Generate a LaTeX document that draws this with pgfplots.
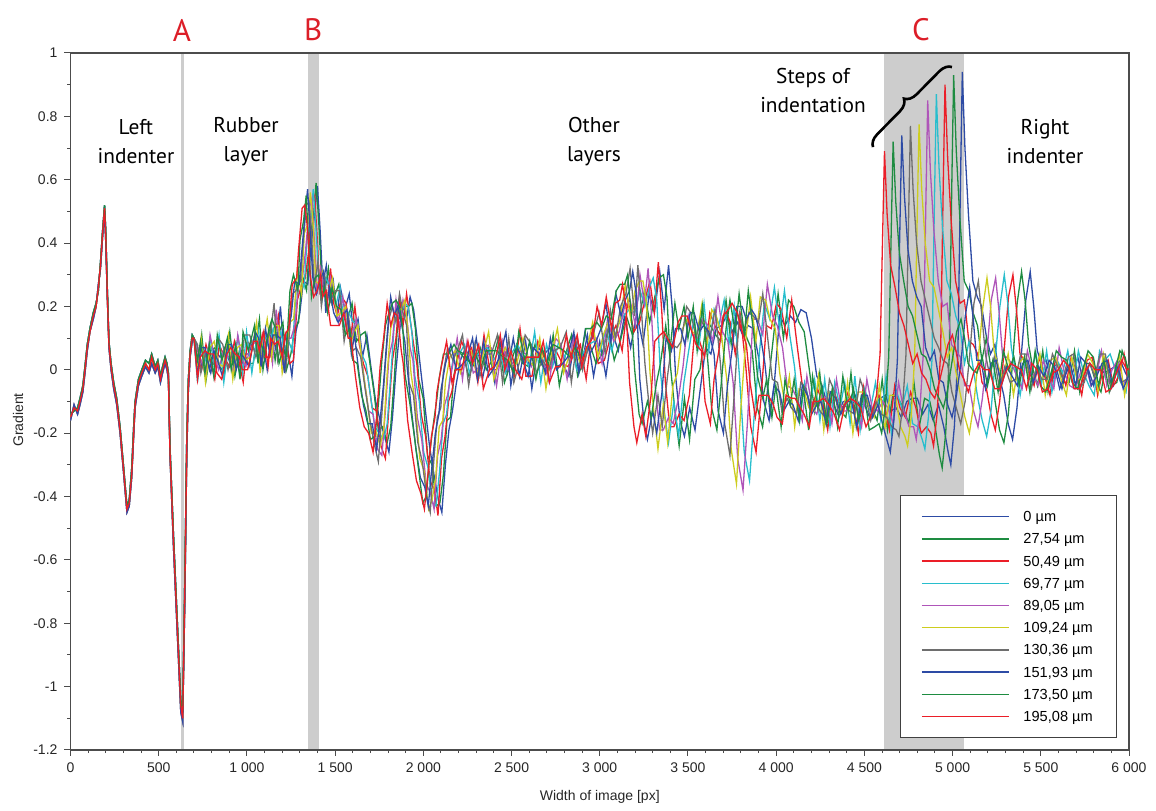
\documentclass[border=0pt]{standalone}
\usepackage{fontspec}
\setmainfont{Liberation Sans}
\newfontfamily\annot{PT Sans}
\usepackage{pgfplots}
\usepackage{pgfplotstable}
\pgfplotsset{compat=1.18}
\usetikzlibrary{decorations.pathreplacing}
\definecolor{serblue}{RGB}{45,75,165}
\definecolor{sergreen}{RGB}{30,140,65}
\definecolor{serred}{RGB}{235,30,40}
\definecolor{sercyan}{RGB}{40,190,205}
\definecolor{sermag}{RGB}{175,85,185}
\definecolor{seryel}{RGB}{205,205,30}
\definecolor{sergray}{RGB}{110,110,110}
\definecolor{band}{RGB}{205,205,205}
\definecolor{lab}{RGB}{220,30,40}

% left part: all curves coincide
\pgfplotstableread{
x ya yb yc
0 -0.15 -0.14 -0.16
20 -0.12 -0.13 -0.11
40 -0.13 -0.12 -0.14
54 -0.10 -0.09 -0.11
70 -0.06 -0.05 -0.07
82 0.00 0.01 -0.01
95 0.07 0.08 0.06
110 0.12 0.13 0.12
129 0.17 0.18 0.16
145 0.20 0.21 0.20
158 0.26 0.25 0.27
170 0.33 0.34 0.32
182 0.43 0.44 0.42
193 0.51 0.52 0.50
200 0.42 0.44 0.40
208 0.25 0.27 0.24
218 0.08 0.09 0.07
230 0.01 0.02 0.00
245 -0.05 -0.04 -0.06
262 -0.10 -0.09 -0.11
281 -0.19 -0.18 -0.20
300 -0.31 -0.30 -0.32
320 -0.44 -0.43 -0.45
333 -0.42 -0.41 -0.43
347 -0.33 -0.31 -0.34
358 -0.20 -0.18 -0.21
366 -0.11 -0.10 -0.12
385 -0.04 -0.03 -0.05
404 -0.01 0.00 -0.02
425 0.02 0.03 0.01
445 0.00 0.02 -0.01
460 0.04 0.05 0.02
480 0.00 0.01 -0.01
495 0.02 0.03 0.01
510 -0.03 -0.02 -0.04
522 0.00 0.01 -0.01
536 0.03 0.04 0.02
547 0.01 0.02 0.00
555 -0.02 -0.01 -0.03
564 -0.26 -0.24 -0.27
583 -0.53 -0.51 -0.55
602 -0.77 -0.75 -0.79
614 -0.92 -0.90 -0.94
625 -1.06 -1.04 -1.08
636 -1.10 -1.08 -1.11
649 -0.66 -0.62 -0.70
659 -0.24 -0.21 -0.27
668 -0.05 -0.03 -0.07
678 0.05 0.06 0.04
690 0.10 0.11 0.09
700 0.10 0.10 0.10
}\tabL

% middle part: one x and one y column for each series
\pgfplotstableread{
x0 x1 x2 x3 x4 x5 x6 x7 x8 x9 y0 y1 y2 y3 y4 y5 y6 y7 y8 y9
700 700 700 700 700 700 700 700 700 700 0.10 0.10 0.10 0.10 0.10 0.10 0.10 0.10 0.10 0.10
720 720 720 720 720 720 720 720 720 720 0.07 -0.01 0.04 -0.04 0.06 0.01 0.08 -0.02 0.03 -0.03
745 744 743 742 741 740 739 738 737 736 0.01 0.11 0.00 0.08 0.03 0.10 -0.01 0.07 0.09 0.04
770 769 768 767 766 765 764 763 762 761 0.04 -0.03 0.08 0.03 -0.02 -0.04 0.05 0.07 -0.01 0.06
795 794 793 792 791 790 789 788 787 786 -0.01 0.06 0.03 0.10 0.11 0.07 0.01 0.00 0.08 0.05
820 819 818 817 816 815 814 813 812 811 0.06 0.07 -0.03 0.00 0.04 0.09 0.02 0.06 -0.02 0.05
848 846 844 842 840 838 836 834 832 830 0.04 0.01 0.08 0.11 0.00 0.02 0.10 0.03 0.11 -0.01
875 873 871 869 867 865 863 861 859 857 0.07 -0.01 0.04 -0.04 0.06 0.01 0.08 -0.02 0.03 -0.03
905 903 901 899 897 895 893 891 889 887 0.02 0.12 0.01 0.09 0.04 0.11 0.00 0.08 0.10 0.05
935 932 929 926 923 920 917 914 911 908 0.05 -0.02 0.09 0.04 -0.01 -0.03 0.06 0.08 0.00 0.07
960 957 954 951 948 945 942 939 936 933 -0.01 0.06 0.03 0.10 0.11 0.07 0.01 0.00 0.08 0.05
985 982 979 976 973 970 967 964 961 958 0.05 0.06 -0.04 -0.01 0.03 0.08 0.01 0.05 -0.03 0.04
1010 1006 1002 998 994 990 986 982 978 974 0.05 0.02 0.09 0.12 0.01 0.03 0.11 0.04 0.12 0.00
1040 1036 1032 1028 1024 1020 1016 1012 1008 1004 0.10 0.02 0.07 -0.01 0.09 0.04 0.11 0.01 0.06 0.00
1075 1071 1067 1063 1059 1055 1051 1047 1043 1039 0.06 0.16 0.05 0.13 0.08 0.15 0.04 0.12 0.14 0.09
1095 1091 1087 1083 1079 1075 1071 1067 1063 1059 0.07 0.00 0.11 0.06 0.01 -0.01 0.08 0.10 0.02 0.09
1115 1110 1105 1100 1095 1090 1085 1080 1075 1070 0.00 0.07 0.04 0.11 0.12 0.08 0.02 0.01 0.09 0.06
1140 1135 1130 1125 1120 1115 1110 1105 1100 1095 0.13 0.14 0.04 0.07 0.11 0.16 0.09 0.13 0.05 0.12
1165 1160 1155 1150 1145 1140 1135 1130 1125 1120 0.06 0.03 0.10 0.13 0.02 0.04 0.12 0.05 0.13 0.01
1190 1184 1178 1172 1166 1160 1154 1148 1142 1136 0.20 0.12 0.17 0.09 0.19 0.14 0.21 0.11 0.16 0.10
1210 1204 1198 1192 1186 1180 1174 1168 1162 1156 0.05 0.15 0.04 0.12 0.07 0.14 0.03 0.11 0.13 0.08
1230 1224 1218 1212 1206 1200 1194 1188 1182 1176 0.07 0.00 0.11 0.06 0.01 -0.01 0.08 0.10 0.02 0.09
1255 1249 1243 1237 1231 1225 1219 1213 1207 1201 -0.02 0.05 0.02 0.09 0.10 0.06 0.00 -0.01 0.07 0.04
1278 1271 1264 1257 1250 1243 1236 1229 1222 1215 0.12 0.13 0.03 0.06 0.10 0.15 0.08 0.12 0.04 0.11
1300 1293 1286 1279 1272 1265 1258 1251 1244 1237 0.18 0.15 0.22 0.25 0.14 0.16 0.24 0.17 0.25 0.13
1320 1313 1306 1299 1292 1285 1278 1271 1264 1257 0.28 0.30 0.26 0.29 0.27 0.31 0.25 0.28 0.30 0.27
1345 1338 1331 1324 1317 1310 1303 1296 1289 1282 0.27 0.25 0.29 0.26 0.30 0.24 0.28 0.27 0.25 0.29
1365 1357 1349 1341 1333 1325 1317 1309 1301 1293 0.40 0.42 0.37 0.41 0.38 0.43 0.39 0.36 0.41 0.38
1385 1377 1369 1361 1353 1345 1337 1329 1321 1313 0.50 0.48 0.53 0.47 0.51 0.46 0.52 0.49 0.47 0.51
1400 1392 1384 1376 1368 1360 1352 1344 1336 1328 0.58 0.59 0.55 0.57 0.54 0.56 0.53 0.57 0.55 0.52
1415 1407 1399 1391 1383 1375 1367 1359 1351 1343 0.44 0.47 0.41 0.45 0.40 0.46 0.42 0.43 0.39 0.45
1430 1422 1414 1406 1398 1390 1382 1374 1366 1358 0.27 0.30 0.25 0.31 0.24 0.28 0.26 0.29 0.23 0.30
1450 1442 1434 1426 1418 1410 1402 1394 1386 1378 0.33 0.25 0.30 0.22 0.32 0.27 0.34 0.24 0.29 0.23
1470 1462 1454 1446 1438 1430 1422 1414 1406 1398 0.22 0.32 0.21 0.29 0.24 0.31 0.20 0.28 0.30 0.25
1490 1482 1474 1466 1458 1450 1442 1434 1426 1418 0.28 0.21 0.32 0.27 0.22 0.20 0.29 0.31 0.23 0.30
1510 1501 1492 1483 1474 1465 1456 1447 1438 1429 0.17 0.24 0.21 0.28 0.29 0.25 0.19 0.18 0.26 0.23
1530 1521 1512 1503 1494 1485 1476 1467 1458 1449 0.26 0.27 0.17 0.20 0.24 0.29 0.22 0.26 0.18 0.25
1555 1546 1537 1528 1519 1510 1501 1492 1483 1474 0.19 0.16 0.23 0.26 0.15 0.17 0.25 0.18 0.26 0.14
1580 1571 1562 1553 1544 1535 1526 1517 1508 1499 0.24 0.16 0.21 0.13 0.23 0.18 0.25 0.15 0.20 0.14
1605 1596 1587 1578 1569 1560 1551 1542 1533 1524 0.11 0.21 0.10 0.18 0.13 0.20 0.09 0.17 0.19 0.14
1630 1621 1612 1603 1594 1585 1576 1567 1558 1549 0.16 0.09 0.20 0.15 0.10 0.08 0.17 0.19 0.11 0.18
1655 1646 1637 1628 1619 1610 1601 1592 1583 1574 0.04 0.11 0.08 0.15 0.16 0.12 0.06 0.05 0.13 0.10
1680 1670 1660 1650 1640 1630 1620 1610 1600 1590 0.11 0.12 0.02 0.05 0.09 0.14 0.07 0.11 0.03 0.10
1705 1695 1685 1675 1665 1655 1645 1635 1625 1615 0.00 0.03 -0.02 0.02 -0.03 0.01 0.04 -0.01 0.02 -0.02
1730 1720 1710 1700 1690 1680 1670 1660 1650 1640 -0.10 -0.07 -0.12 -0.08 -0.13 -0.09 -0.06 -0.11 -0.08 -0.12
1755 1745 1735 1725 1715 1705 1695 1685 1675 1665 -0.16 -0.19 -0.13 -0.18 -0.14 -0.20 -0.15 -0.17 -0.13 -0.18
1780 1770 1760 1750 1740 1730 1720 1710 1700 1690 -0.21 -0.18 -0.24 -0.20 -0.25 -0.19 -0.23 -0.17 -0.22 -0.20
1805 1795 1785 1775 1765 1755 1745 1735 1725 1715 -0.26 -0.23 -0.28 -0.22 -0.27 -0.24 -0.29 -0.25 -0.21 -0.26
1825 1815 1805 1795 1785 1775 1765 1755 1745 1735 -0.15 -0.18 -0.12 -0.17 -0.13 -0.19 -0.14 -0.16 -0.11 -0.15
1845 1835 1825 1815 1805 1795 1785 1775 1765 1755 0.00 -0.03 0.03 -0.02 0.04 -0.01 0.02 -0.04 0.03 0.01
1865 1855 1845 1835 1825 1815 1805 1795 1785 1775 0.12 0.15 0.10 0.14 0.09 0.13 0.16 0.11 0.14 0.10
1885 1875 1865 1855 1845 1835 1825 1815 1805 1795 0.21 0.18 0.23 0.19 0.22 0.17 0.20 0.23 0.18 0.21
1905 1895 1885 1875 1865 1855 1845 1835 1825 1815 0.16 0.20 0.14 0.18 0.13 0.19 0.15 0.17 0.21 0.14
1925 1915 1905 1895 1885 1875 1865 1855 1845 1835 0.23 0.20 0.24 0.21 0.22 0.19 0.24 0.20 0.22 0.18
1945 1935 1925 1915 1905 1895 1885 1875 1865 1855 0.19 0.21 0.16 0.20 0.17 0.22 0.18 0.15 0.20 0.17
1965 1955 1945 1935 1925 1915 1905 1895 1885 1875 0.10 0.13 0.08 0.12 0.07 0.11 0.14 0.09 0.12 0.06
1985 1974 1963 1952 1941 1930 1919 1908 1897 1886 0.00 -0.03 0.02 -0.02 0.03 -0.01 -0.04 0.01 -0.02 0.02
2010 1999 1988 1977 1966 1955 1944 1933 1922 1911 -0.12 -0.09 -0.14 -0.10 -0.15 -0.11 -0.08 -0.13 -0.10 -0.16
2035 2024 2013 2002 1991 1980 1969 1958 1947 1936 -0.24 -0.27 -0.21 -0.26 -0.22 -0.28 -0.23 -0.25 -0.20 -0.26
2060 2049 2038 2027 2016 2005 1994 1983 1972 1961 -0.33 -0.30 -0.35 -0.31 -0.36 -0.32 -0.29 -0.34 -0.31 -0.35
2085 2074 2063 2052 2041 2030 2019 2008 1997 1986 -0.41 -0.43 -0.38 -0.42 -0.39 -0.44 -0.40 -0.37 -0.42 -0.39
2105 2094 2083 2072 2061 2050 2039 2028 2017 2006 -0.45 -0.42 -0.46 -0.43 -0.44 -0.41 -0.45 -0.43 -0.40 -0.44
2125 2114 2103 2092 2081 2070 2059 2048 2037 2026 -0.30 -0.33 -0.28 -0.32 -0.27 -0.34 -0.29 -0.31 -0.26 -0.33
2145 2134 2123 2112 2101 2090 2079 2068 2057 2046 -0.19 -0.16 -0.21 -0.17 -0.22 -0.18 -0.15 -0.20 -0.17 -0.21
2165 2154 2143 2132 2121 2110 2099 2088 2077 2066 -0.13 -0.15 -0.10 -0.14 -0.11 -0.16 -0.12 -0.14 -0.09 -0.15
2185 2173 2161 2149 2137 2125 2113 2101 2089 2077 -0.05 -0.02 -0.07 -0.03 -0.08 -0.04 -0.01 -0.06 -0.03 -0.07
2210 2198 2186 2174 2162 2150 2138 2126 2114 2102 0.03 0.06 0.01 0.05 0.00 0.04 0.07 0.02 0.05 0.01
2240 2228 2216 2204 2192 2180 2168 2156 2144 2132 0.07 0.04 0.09 0.05 0.10 0.06 0.03 0.08 0.05 0.09
2270 2258 2246 2234 2222 2210 2198 2186 2174 2162 0.01 -0.02 0.05 0.08 -0.03 -0.01 0.07 0.00 0.08 -0.04
2300 2287 2274 2261 2248 2235 2222 2209 2196 2183 0.10 0.02 0.07 -0.01 0.09 0.04 0.11 0.01 0.06 0.00
2335 2322 2309 2296 2283 2270 2257 2244 2231 2218 -0.03 0.07 -0.04 0.04 -0.01 0.06 -0.05 0.03 0.05 0.00
2370 2357 2344 2331 2318 2305 2292 2279 2266 2253 0.07 0.00 0.11 0.06 0.01 -0.01 0.08 0.10 0.02 0.09
2405 2391 2377 2363 2349 2335 2321 2307 2293 2279 -0.04 0.03 0.00 0.07 0.08 0.04 -0.02 -0.03 0.05 0.02
2440 2426 2412 2398 2384 2370 2356 2342 2328 2314 0.09 0.10 0.00 0.03 0.07 0.12 0.05 0.09 0.01 0.08
2475 2460 2445 2430 2415 2400 2385 2370 2355 2340 -0.01 -0.04 0.03 0.06 -0.05 -0.03 0.05 -0.02 0.06 -0.06
2510 2495 2480 2465 2450 2435 2420 2405 2390 2375 0.10 0.02 0.07 -0.01 0.09 0.04 0.11 0.01 0.06 0.00
2545 2529 2513 2497 2481 2465 2449 2433 2417 2401 -0.02 0.08 -0.03 0.05 0.00 0.07 -0.04 0.04 0.06 0.01
2580 2564 2548 2532 2516 2500 2484 2468 2452 2436 0.09 0.02 0.13 0.08 0.03 0.01 0.10 0.12 0.04 0.11
2615 2598 2581 2564 2547 2530 2513 2496 2479 2462 -0.06 0.01 -0.02 0.05 0.06 0.02 -0.04 -0.05 0.03 0.00
2650 2633 2616 2599 2582 2565 2548 2531 2514 2497 0.07 0.08 -0.02 0.01 0.05 0.10 0.03 0.07 -0.01 0.06
2685 2667 2649 2631 2613 2595 2577 2559 2541 2523 0.05 0.02 0.09 0.12 0.01 0.03 0.11 0.04 0.12 0.00
2720 2702 2684 2666 2648 2630 2612 2594 2576 2558 0.07 -0.01 0.04 -0.04 0.06 0.01 0.08 -0.02 0.03 -0.03
2755 2736 2717 2698 2679 2660 2641 2622 2603 2584 0.01 0.11 0.00 0.08 0.03 0.10 -0.01 0.07 0.09 0.04
2790 2771 2752 2733 2714 2695 2676 2657 2638 2619 0.02 -0.05 0.06 0.01 -0.04 -0.06 0.03 0.05 -0.03 0.04
2825 2806 2787 2768 2749 2730 2711 2692 2673 2654 -0.02 0.05 0.02 0.09 0.10 0.06 0.00 -0.01 0.07 0.04
2860 2840 2820 2800 2780 2760 2740 2720 2700 2680 0.10 0.11 0.01 0.04 0.08 0.13 0.06 0.10 0.02 0.09
2895 2875 2855 2835 2815 2795 2775 2755 2735 2715 0.01 -0.02 0.05 0.08 -0.03 -0.01 0.07 0.00 0.08 -0.04
2930 2910 2890 2870 2850 2830 2810 2790 2770 2750 0.11 0.03 0.08 0.00 0.10 0.05 0.12 0.02 0.07 0.01
2965 2944 2923 2902 2881 2860 2839 2818 2797 2776 -0.02 0.08 -0.03 0.05 0.00 0.07 -0.04 0.04 0.06 0.01
3000 2979 2958 2937 2916 2895 2874 2853 2832 2811 0.09 0.02 0.13 0.08 0.03 0.01 0.10 0.12 0.04 0.11
3035 3013 2991 2969 2947 2925 2903 2881 2859 2837 -0.02 0.05 0.02 0.09 0.10 0.06 0.00 -0.01 0.07 0.04
3070 3048 3026 3004 2982 2960 2938 2916 2894 2872 0.12 0.13 0.03 0.06 0.10 0.15 0.08 0.12 0.04 0.11
3105 3082 3059 3036 3013 2990 2967 2944 2921 2898 0.06 0.03 0.10 0.13 0.02 0.04 0.12 0.05 0.13 0.01
3140 3116 3092 3068 3044 3020 2996 2972 2948 2924 0.17 0.09 0.14 0.06 0.16 0.11 0.18 0.08 0.13 0.07
3175 3151 3127 3103 3079 3055 3031 3007 2983 2959 0.07 0.17 0.06 0.14 0.09 0.16 0.05 0.13 0.15 0.10
3210 3185 3160 3135 3110 3085 3060 3035 3010 2985 0.18 0.11 0.22 0.17 0.12 0.10 0.19 0.21 0.13 0.20
3245 3219 3193 3167 3141 3115 3089 3063 3037 3011 0.08 0.15 0.12 0.19 0.20 0.16 0.10 0.09 0.17 0.14
3280 3253 3226 3199 3172 3145 3118 3091 3064 3037 0.24 0.25 0.15 0.18 0.22 0.27 0.20 0.24 0.16 0.23
3310 3283 3256 3229 3202 3175 3148 3121 3094 3067 0.18 0.15 0.22 0.25 0.14 0.16 0.24 0.17 0.25 0.13
3340 3312 3284 3256 3228 3200 3172 3144 3116 3088 0.31 0.23 0.28 0.20 0.30 0.25 0.32 0.22 0.27 0.21
3365 3337 3309 3281 3253 3225 3197 3169 3141 3113 0.19 0.29 0.18 0.26 0.21 0.28 0.17 0.25 0.27 0.22
3390 3361 3332 3303 3274 3245 3216 3187 3158 3129 0.33 0.30 0.34 0.29 0.32 0.28 0.33 0.31 0.30 0.27
3410 3381 3352 3323 3294 3265 3236 3207 3178 3149 0.20 0.23 0.18 0.22 0.17 0.21 0.19 0.24 0.18 0.20
3430 3401 3372 3343 3314 3285 3256 3227 3198 3169 -0.02 0.01 -0.04 0.00 -0.05 -0.01 0.02 -0.03 0.00 -0.04
3455 3426 3397 3368 3339 3310 3281 3252 3223 3194 -0.16 -0.13 -0.18 -0.14 -0.19 -0.15 -0.12 -0.17 -0.14 -0.18
3480 3450 3420 3390 3360 3330 3300 3270 3240 3210 -0.21 -0.24 -0.18 -0.23 -0.19 -0.25 -0.20 -0.22 -0.17 -0.23
3510 3480 3450 3420 3390 3360 3330 3300 3270 3240 -0.12 -0.09 -0.14 -0.10 -0.15 -0.11 -0.08 -0.13 -0.10 -0.14
3540 3509 3478 3447 3416 3385 3354 3323 3292 3261 -0.19 -0.22 -0.16 -0.21 -0.17 -0.23 -0.18 -0.20 -0.15 -0.21
3570 3539 3508 3477 3446 3415 3384 3353 3322 3291 -0.06 -0.03 -0.08 -0.04 -0.09 -0.05 -0.02 -0.07 -0.04 -0.08
3600 3568 3536 3504 3472 3440 3408 3376 3344 3312 0.07 0.00 0.11 0.06 0.01 -0.01 0.08 0.10 0.02 0.09
3630 3598 3566 3534 3502 3470 3438 3406 3374 3342 0.05 0.12 0.09 0.16 0.17 0.13 0.07 0.06 0.14 0.11
3660 3627 3594 3561 3528 3495 3462 3429 3396 3363 0.13 0.14 0.04 0.07 0.11 0.16 0.09 0.13 0.05 0.12
3690 3657 3624 3591 3558 3525 3492 3459 3426 3393 0.14 0.11 0.18 0.21 0.10 0.12 0.20 0.13 0.21 0.09
3720 3686 3652 3618 3584 3550 3516 3482 3448 3414 0.17 0.09 0.14 0.06 0.16 0.11 0.18 0.08 0.13 0.07
3750 3716 3682 3648 3614 3580 3546 3512 3478 3444 0.12 0.22 0.11 0.19 0.14 0.21 0.10 0.18 0.20 0.15
3780 3745 3710 3675 3640 3605 3570 3535 3500 3465 0.15 0.08 0.19 0.14 0.09 0.07 0.16 0.18 0.10 0.17
3810 3775 3740 3705 3670 3635 3600 3565 3530 3495 0.11 0.18 0.15 0.22 0.23 0.19 0.13 0.12 0.20 0.17
3840 3804 3768 3732 3696 3660 3624 3588 3552 3516 0.14 0.15 0.05 0.08 0.12 0.17 0.10 0.14 0.06 0.13
3870 3834 3798 3762 3726 3690 3654 3618 3582 3546 0.13 0.10 0.17 0.20 0.09 0.11 0.19 0.12 0.20 0.08
3900 3864 3828 3792 3756 3720 3684 3648 3612 3576 0.04 0.06 0.01 -0.02 -0.04 -0.03 0.02 0.05 0.03 0.06
3930 3893 3856 3819 3782 3745 3708 3671 3634 3597 -0.10 -0.12 -0.18 -0.26 -0.28 -0.25 -0.17 -0.13 -0.12 -0.10
3960 3923 3886 3849 3812 3775 3738 3701 3664 3627 -0.16 -0.18 -0.26 -0.35 -0.38 -0.36 -0.27 -0.20 -0.19 -0.17
3990 3952 3914 3876 3838 3800 3762 3724 3686 3648 -0.04 -0.06 -0.09 -0.14 -0.16 -0.12 -0.08 -0.05 -0.06 -0.03
4020 3982 3944 3906 3868 3830 3792 3754 3716 3678 0.17 0.09 0.14 0.06 0.16 0.11 0.18 0.08 0.13 0.07
4050 4011 3972 3933 3894 3855 3816 3777 3738 3699 0.14 0.24 0.13 0.21 0.16 0.23 0.12 0.20 0.22 0.17
4080 4041 4002 3963 3924 3885 3846 3807 3768 3729 0.17 0.10 0.21 0.16 0.11 0.09 0.18 0.20 0.12 0.19
4110 4070 4030 3990 3950 3910 3870 3830 3790 3750 0.15 0.22 0.19 0.26 0.27 0.23 0.17 0.16 0.24 0.21
4140 4100 4060 4020 3980 3940 3900 3860 3820 3780 0.19 0.20 0.10 0.13 0.17 0.22 0.15 0.19 0.11 0.18
4170 4129 4088 4047 4006 3965 3924 3883 3842 3801 0.18 0.15 0.22 0.25 0.14 0.16 0.24 0.17 0.25 0.13
4200 4159 4118 4077 4036 3995 3954 3913 3872 3831 0.10 0.12 0.08 0.11 0.07 0.13 0.09 0.10 0.12 0.08
4230 4188 4146 4104 4062 4020 3978 3936 3894 3852 -0.02 0.00 -0.04 0.01 -0.05 -0.01 -0.03 0.02 -0.02 -0.04
4260 4218 4176 4134 4092 4050 4008 3966 3924 3882 -0.05 -0.13 -0.08 -0.16 -0.06 -0.11 -0.04 -0.14 -0.09 -0.15
4290 4247 4204 4161 4118 4075 4032 3989 3946 3903 -0.11 -0.01 -0.12 -0.04 -0.09 -0.02 -0.13 -0.05 -0.03 -0.08
4320 4277 4234 4191 4148 4105 4062 4019 3976 3933 -0.10 -0.17 -0.06 -0.11 -0.16 -0.18 -0.09 -0.07 -0.15 -0.08
4350 4306 4262 4218 4174 4130 4086 4042 3998 3954 -0.14 -0.07 -0.10 -0.03 -0.02 -0.06 -0.12 -0.13 -0.05 -0.08
4380 4336 4292 4248 4204 4160 4116 4072 4028 3984 -0.10 -0.09 -0.19 -0.16 -0.12 -0.07 -0.14 -0.10 -0.18 -0.11
4410 4365 4320 4275 4230 4185 4140 4095 4050 4005 -0.10 -0.13 -0.06 -0.03 -0.14 -0.12 -0.04 -0.11 -0.03 -0.15
4440 4395 4350 4305 4260 4215 4170 4125 4080 4035 -0.07 -0.15 -0.10 -0.18 -0.08 -0.13 -0.06 -0.16 -0.11 -0.17
4470 4424 4378 4332 4286 4240 4194 4148 4102 4056 -0.11 -0.01 -0.12 -0.04 -0.09 -0.02 -0.13 -0.05 -0.03 -0.08
4500 4454 4408 4362 4316 4270 4224 4178 4132 4086 -0.11 -0.18 -0.07 -0.12 -0.17 -0.19 -0.10 -0.08 -0.16 -0.09
4530 4483 4436 4389 4342 4295 4248 4201 4154 4107 -0.15 -0.08 -0.11 -0.04 -0.03 -0.07 -0.13 -0.14 -0.06 -0.09
4560 4513 4466 4419 4372 4325 4278 4231 4184 4137 -0.11 -0.10 -0.20 -0.17 -0.13 -0.08 -0.15 -0.11 -0.19 -0.12
4590 4542 4494 4446 4398 4350 4302 4254 4206 4158 -0.09 -0.12 -0.05 -0.02 -0.13 -0.11 -0.03 -0.10 -0.02 -0.14
4620 4572 4524 4476 4428 4380 4332 4284 4236 4188 -0.08 -0.16 -0.11 -0.19 -0.09 -0.14 -0.07 -0.17 -0.12 -0.18
4650 4601 4552 4503 4454 4405 4356 4307 4258 4209 -0.13 -0.03 -0.14 -0.06 -0.11 -0.04 -0.15 -0.07 -0.05 -0.10
4680 4631 4582 4533 4484 4435 4386 4337 4288 4239 -0.12 -0.19 -0.08 -0.13 -0.18 -0.20 -0.11 -0.09 -0.17 -0.10
4710 4661 4612 4563 4514 4465 4416 4367 4318 4269 -0.15 -0.08 -0.11 -0.04 -0.03 -0.07 -0.13 -0.14 -0.06 -0.09
4740 4691 4642 4593 4544 4495 4446 4397 4348 4299 -0.10 -0.09 -0.19 -0.16 -0.12 -0.07 -0.14 -0.10 -0.18 -0.11
4770 4721 4672 4623 4574 4525 4476 4427 4378 4329 -0.09 -0.12 -0.05 -0.02 -0.13 -0.11 -0.03 -0.10 -0.02 -0.14
4800 4751 4702 4653 4604 4555 4506 4457 4408 4359 -0.09 -0.17 -0.12 -0.20 -0.10 -0.15 -0.08 -0.18 -0.13 -0.19
4830 4781 4732 4683 4634 4585 4536 4487 4438 4389 -0.14 -0.04 -0.15 -0.07 -0.12 -0.05 -0.16 -0.08 -0.06 -0.11
4860 4811 4762 4713 4664 4615 4566 4517 4468 4419 -0.11 -0.18 -0.07 -0.12 -0.17 -0.19 -0.10 -0.08 -0.16 -0.09
4890 4841 4792 4743 4694 4645 4596 4547 4498 4449 -0.16 -0.09 -0.12 -0.05 -0.04 -0.08 -0.14 -0.15 -0.07 -0.10
4920 4871 4822 4773 4724 4675 4626 4577 4528 4479 -0.11 -0.10 -0.20 -0.17 -0.13 -0.08 -0.15 -0.11 -0.19 -0.12
4950 4901 4852 4803 4754 4705 4656 4607 4558 4509 -0.18 -0.18 -0.18 -0.18 -0.18 -0.18 -0.18 -0.18 -0.18 -0.18
4975 4926 4877 4828 4779 4730 4681 4632 4583 4534 -0.26 -0.27 -0.20 -0.22 -0.18 -0.21 -0.19 -0.23 -0.17 -0.15
4990 4941 4892 4843 4794 4745 4696 4647 4598 4549 -0.30 -0.31 -0.24 -0.25 -0.22 -0.24 -0.21 -0.26 -0.20 -0.12
5010 4961 4912 4863 4814 4765 4716 4667 4618 4569 -0.18 -0.20 -0.14 -0.15 -0.13 -0.15 -0.12 -0.16 -0.12 -0.08
5030 4981 4932 4883 4834 4785 4736 4687 4638 4589 0.05 0.04 0.05 0.03 0.05 0.04 0.05 0.03 0.04 0.05
5045 4996 4947 4898 4849 4800 4751 4702 4653 4604 0.60 0.60 0.58 0.56 0.54 0.50 0.49 0.47 0.46 0.44
5055 5006 4957 4908 4859 4810 4761 4712 4663 4614 0.94 0.93 0.90 0.87 0.85 0.775 0.77 0.74 0.72 0.69
5070 5021 4972 4923 4874 4825 4776 4727 4678 4629 0.70 0.69 0.67 0.64 0.63 0.57 0.57 0.55 0.53 0.49
5090 5041 4992 4943 4894 4845 4796 4747 4698 4649 0.49 0.48 0.47 0.45 0.44 0.40 0.40 0.38 0.37 0.33
5115 5066 5017 4968 4919 4870 4821 4772 4723 4674 0.28 0.28 0.28 0.28 0.28 0.28 0.28 0.28 0.28 0.26
}\tabM

% right part: one x and one y column for each series
\pgfplotstableread{
x0 x1 x2 x3 x4 x5 x6 x7 x8 x9 y0 y1 y2 y3 y4 y5 y6 y7 y8 y9
5115 5066 5017 4968 4919 4870 4821 4772 4723 4674 0.28 0.28 0.28 0.28 0.28 0.28 0.28 0.28 0.28 0.26
5140 5091 5042 4993 4944 4895 4846 4797 4748 4699 0.23 0.25 0.21 0.24 0.20 0.26 0.22 0.23 0.20 0.18
5165 5116 5067 5018 4969 4920 4871 4822 4773 4724 0.20 0.18 0.22 0.17 0.21 0.19 0.16 0.20 0.17 0.14
5190 5141 5092 5043 4994 4945 4896 4847 4798 4749 0.11 0.14 0.09 0.13 0.08 0.12 0.10 0.07 0.11 0.08
5215 5166 5117 5068 5019 4970 4921 4872 4823 4774 0.05 0.03 0.08 0.02 0.06 0.04 0.07 0.03 0.05 0.02
5240 5191 5142 5093 5044 4995 4946 4897 4848 4799 0.08 0.10 0.05 0.09 0.04 0.07 0.03 0.06 0.04 0.05
5265 5216 5167 5118 5069 5020 4971 4922 4873 4824 -0.02 0.01 -0.04 0.00 -0.05 -0.01 0.02 -0.03 0.00 -0.01
5290 5241 5192 5143 5094 5045 4996 4947 4898 4849 -0.08 -0.10 -0.06 -0.09 -0.05 -0.08 -0.07 -0.04 -0.06 -0.03
5315 5266 5217 5168 5119 5070 5021 4972 4923 4874 -0.17 -0.19 -0.14 -0.16 -0.13 -0.15 -0.12 -0.11 -0.09 -0.07
5340 5291 5242 5193 5144 5095 5046 4997 4948 4899 -0.22 -0.23 -0.19 -0.21 -0.18 -0.20 -0.17 -0.15 -0.12 -0.09
5365 5316 5267 5218 5169 5120 5071 5022 4973 4924 -0.12 -0.14 -0.10 -0.13 -0.09 -0.11 -0.10 -0.08 -0.06 -0.04
5390 5341 5292 5243 5194 5145 5096 5047 4998 4949 0.05 0.03 0.06 0.04 0.05 0.03 0.04 0.02 0.03 0.02
5415 5366 5317 5268 5219 5170 5121 5072 5023 4974 0.22 0.21 0.23 0.20 0.22 0.19 0.21 0.17 0.12 0.08
5440 5391 5342 5293 5244 5195 5146 5097 5048 4999 0.31 0.31 0.30 0.30 0.29 0.29 0.28 0.26 0.16 0.11
5460 5411 5362 5313 5264 5215 5166 5117 5068 5019 0.20 0.22 0.19 0.21 0.18 0.20 0.17 0.16 0.10 0.06
5480 5431 5382 5333 5284 5235 5186 5137 5088 5039 0.06 0.08 0.05 0.07 0.04 0.06 0.05 0.03 0.02 0.00
5505 5456 5407 5358 5309 5260 5211 5162 5113 5064 0.02 0.00 0.03 -0.01 0.04 0.01 -0.02 0.03 0.00 -0.03
5530 5481 5432 5383 5334 5285 5236 5187 5138 5089 0.03 -0.05 0.00 -0.08 0.02 -0.03 0.04 -0.06 -0.01 -0.07
5560 5511 5462 5413 5364 5315 5266 5217 5168 5119 -0.04 0.06 -0.05 0.03 -0.02 0.05 -0.06 0.02 0.04 -0.01
5590 5541 5492 5443 5394 5345 5296 5247 5198 5149 0.00 -0.07 0.04 -0.01 -0.06 -0.08 0.01 0.03 -0.05 0.02
5620 5571 5522 5473 5424 5375 5326 5277 5228 5179 -0.06 0.01 -0.02 0.05 0.06 0.02 -0.04 -0.05 0.03 0.00
5650 5601 5552 5503 5454 5405 5356 5307 5258 5209 0.01 0.02 -0.08 -0.05 -0.01 0.04 -0.03 0.01 -0.07 0.00
5680 5631 5582 5533 5484 5435 5386 5337 5288 5239 -0.01 -0.04 0.03 0.06 -0.05 -0.03 0.05 -0.02 0.06 -0.06
5710 5661 5612 5563 5514 5465 5416 5367 5318 5269 0.04 -0.04 0.01 -0.07 0.03 -0.02 0.05 -0.05 0.00 -0.06
5740 5691 5642 5593 5544 5495 5446 5397 5348 5299 -0.04 0.06 -0.05 0.03 -0.02 0.05 -0.06 0.02 0.04 -0.01
5770 5721 5672 5623 5574 5525 5476 5427 5378 5329 0.00 -0.07 0.04 -0.01 -0.06 -0.08 0.01 0.03 -0.05 0.02
5800 5751 5702 5653 5604 5555 5506 5457 5408 5359 -0.05 0.02 -0.01 0.06 0.07 0.03 -0.03 -0.04 0.04 0.01
5830 5781 5732 5683 5634 5585 5536 5487 5438 5389 0.01 0.02 -0.08 -0.05 -0.01 0.04 -0.03 0.01 -0.07 0.00
5860 5811 5762 5713 5664 5615 5566 5517 5468 5419 -0.01 -0.04 0.03 0.06 -0.05 -0.03 0.05 -0.02 0.06 -0.06
5890 5841 5792 5743 5694 5645 5596 5547 5498 5449 0.00 -0.07 0.04 -0.01 -0.06 -0.08 0.01 0.03 -0.05 0.02
5920 5871 5822 5773 5724 5675 5626 5577 5528 5479 0.01 0.02 -0.08 -0.05 -0.01 0.04 -0.03 0.01 -0.07 0.00
5950 5901 5852 5803 5754 5705 5656 5607 5558 5509 0.03 -0.05 0.00 -0.08 0.02 -0.03 0.04 -0.06 -0.01 -0.07
5980 5931 5882 5833 5784 5735 5686 5637 5588 5539 -0.01 -0.04 0.03 0.06 -0.05 -0.03 0.05 -0.02 0.06 -0.06
6010 5961 5912 5863 5814 5765 5716 5667 5618 5569 -0.04 0.06 -0.05 0.03 -0.02 0.05 -0.06 0.02 0.04 -0.01
6040 5991 5942 5893 5844 5795 5746 5697 5648 5599 -0.06 0.01 -0.02 0.05 0.06 0.02 -0.04 -0.05 0.03 0.00
6070 6021 5972 5923 5874 5825 5776 5727 5678 5629 0.01 -0.06 0.05 0.00 -0.05 -0.07 0.02 0.04 -0.04 0.03
6100 6051 6002 5953 5904 5855 5806 5757 5708 5659 0.02 0.03 -0.07 -0.04 0.00 0.05 -0.02 0.02 -0.06 0.01
6130 6081 6032 5983 5934 5885 5836 5787 5738 5689 0.04 -0.04 0.01 -0.07 0.03 -0.02 0.05 -0.05 0.00 -0.06
6160 6111 6062 6013 5964 5915 5866 5817 5768 5719 -0.01 -0.04 0.03 0.06 -0.05 -0.03 0.05 -0.02 0.06 -0.06
6190 6141 6092 6043 5994 5945 5896 5847 5798 5749 -0.04 0.06 -0.05 0.03 -0.02 0.05 -0.06 0.02 0.04 -0.01
6220 6171 6122 6073 6024 5975 5926 5877 5828 5779 0.00 -0.07 0.04 -0.01 -0.06 -0.08 0.01 0.03 -0.05 0.02
6250 6201 6152 6103 6054 6005 5956 5907 5858 5809 -0.06 0.01 -0.02 0.05 0.06 0.02 -0.04 -0.05 0.03 0.00
6280 6231 6182 6133 6084 6035 5986 5937 5888 5839 0.01 0.02 -0.08 -0.05 -0.01 0.04 -0.03 0.01 -0.07 0.00
6310 6261 6212 6163 6114 6065 6016 5967 5918 5869 0.03 -0.05 0.00 -0.08 0.02 -0.03 0.04 -0.06 -0.01 -0.07
6340 6291 6242 6193 6144 6095 6046 5997 5948 5899 -0.01 -0.04 0.03 0.06 -0.05 -0.03 0.05 -0.02 0.06 -0.06
6370 6321 6272 6223 6174 6125 6076 6027 5978 5929 -0.04 0.06 -0.05 0.03 -0.02 0.05 -0.06 0.02 0.04 -0.01
6400 6351 6302 6253 6204 6155 6106 6057 6008 5959 0.01 -0.06 0.05 0.00 -0.05 -0.07 0.02 0.04 -0.04 0.03
6430 6381 6332 6283 6234 6185 6136 6087 6038 5989 -0.06 0.01 -0.02 0.05 0.06 0.02 -0.04 -0.05 0.03 0.00
6460 6411 6362 6313 6264 6215 6166 6117 6068 6019 0.02 0.03 -0.07 -0.04 0.00 0.05 -0.02 0.02 -0.06 0.01
}\tabR

\newcommand{\series}[4]{%
  \addplot[color=#1] table[x=x,y=#3]{\tabL};
  \addlegendentry{#4}
  \addplot[color=#1,forget plot] table[x=x#2,y=y#2]{\tabM};
  \addplot[color=#1,forget plot] table[x=x#2,y=y#2]{\tabR};
}

\begin{document}
\begin{tikzpicture}
\begin{axis}[
  at={(0,0)}, anchor=south west,
  scale only axis, width=529.25pt, height=348.5pt,
  xmin=0, xmax=6000, ymin=-1.2, ymax=1,
  xtick={0,500,1000,1500,2000,2500,3000,3500,4000,4500,5000,5500,6000},
  xticklabels={0,500,1 000,1 500,2 000,2 500,3 000,3 500,4 000,4 500,5 000,5 500,6 000},
  ytick={-1.2,-1,-0.8,-0.6,-0.4,-0.2,0,0.2,0.4,0.6,0.8,1},
  yticklabels={-1.2,-1,-0.8,-0.6,-0.4,-0.2,0,0.2,0.4,0.6,0.8,1},
  minor x tick num=4, minor y tick num=1,
  tick align=outside, tick pos=left,
  major tick length=3pt, minor tick length=1.6pt,
  axis line style={black!70, line width=0.6pt},
  every tick/.style={black!70, line width=0.5pt},
  tick label style={font=\fontsize{7}{8.4}\selectfont, text=black!85},
  set layers,
  clip bounding box=upper bound,
  every axis plot/.append style={line width=0.65pt},
  legend image code/.code={\draw[#1,line width=0.65pt] (0pt,0pt) -- (43.5pt,0pt); \path (49pt,0pt);},
  legend cell align=left,
  legend style={at={(0.989,0.017)}, anchor=south east, draw=black!75,
    line width=0.6pt, fill=white, font=\fontsize{7.3}{8.5}\selectfont,
    inner xsep=10.5pt, inner ysep=5.5pt, row sep=1.1pt,
    nodes={inner sep=1.5pt, text height=6pt, text depth=1pt}},
]
\begin{pgfonlayer}{axis background}
\fill[band] (axis cs:627,-1.2) rectangle (axis cs:644,1);
\fill[band] (axis cs:1347,-1.2) rectangle (axis cs:1409,1);
\fill[band] (axis cs:4611,-1.2) rectangle (axis cs:5065,1);
\end{pgfonlayer}

\series{serblue}{0}{yb}{0 µm}
\series{sergreen}{1}{yc}{27,54 µm}
\series{serred}{2}{ya}{50,49 µm}
\series{sercyan}{3}{yb}{69,77 µm}
\series{sermag}{4}{yc}{89,05 µm}
\series{seryel}{5}{ya}{109,24 µm}
\series{sergray}{6}{yb}{130,36 µm}
\series{serblue}{7}{yc}{151,93 µm}
\series{sergreen}{8}{yb}{173,50 µm}
\series{serred}{9}{ya}{195,08 µm}

\node[font=\annot\fontsize{10.7}{14.5}\selectfont, align=center] at (axis cs:371,0.719) {Left\\indenter};
\node[font=\annot\fontsize{10.7}{14.5}\selectfont, align=center] at (axis cs:995,0.719) {Rubber\\layer};
\node[font=\annot\fontsize{10.7}{14.5}\selectfont, align=center] at (axis cs:2967,0.719) {Other\\layers};
\node[font=\annot\fontsize{10.7}{14.5}\selectfont, align=center] at (axis cs:4209,0.882) {Steps of\\indentation};
\node[font=\annot\fontsize{10.7}{14.5}\selectfont, align=center] at (axis cs:5524,0.719) {Right\\indenter};
\draw[line width=1.3pt, decorate, decoration={brace, amplitude=6pt}] (axis cs:4549,0.703) -- (axis cs:4997,0.956);

\coordinate (pA) at (axis cs:632,1);
\coordinate (pB) at (axis cs:1375,1);
\coordinate (pC) at (axis cs:4821,1);
\coordinate (xl) at (rel axis cs:0.5,0);
\coordinate (yl) at (rel axis cs:0,0.4735);
\coordinate (SWc) at (rel axis cs:0,0);
\coordinate (NEc) at (rel axis cs:1,1);
\end{axis}
\node[text=lab, font=\annot\fontsize{15.5}{16}\selectfont] at ([yshift=11.5pt]pA) {A};
\node[text=lab, font=\annot\fontsize{15.5}{16}\selectfont] at ([yshift=11.5pt]pB) {B};
\node[text=lab, font=\annot\fontsize{15.5}{16}\selectfont] at ([yshift=11.5pt]pC) {C};
\node[font=\fontsize{7}{8.4}\selectfont, text=black!85] at ([yshift=-23.5pt]xl) {Width of image [px]};
\node[font=\fontsize{7}{8.4}\selectfont, text=black!85, rotate=90] at ([xshift=-26.25pt]yl) {Gradient};
\path ([xshift=-35.25pt,yshift=-29.5pt]SWc) rectangle ([xshift=13.5pt,yshift=26.5pt]NEc);
\end{tikzpicture}
\end{document}
